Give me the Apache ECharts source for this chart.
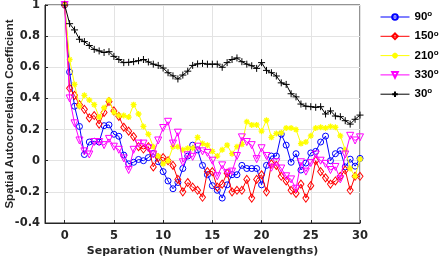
<!DOCTYPE html>
<html><head><meta charset="utf-8">
<script src="https://cdn.jsdelivr.net/npm/echarts@6/dist/echarts.min.js"></script>
<style>html,body{margin:0;padding:0;background:#fff}#c{width:443px;height:262px}</style>
</head><body><div id="c"></div>
<script>
// Separation (number of wavelengths)
const separation = [0,0.5,1,1.5,2,2.5,3,3.5,4,4.5,5,5.5,6,6.5,7,7.5,8,8.5,9,9.5,10,10.5,11,11.5,12,12.5,13,13.5,14,14.5,15,15.5,16,16.5,17,17.5,18,18.5,19,19.5,20,20.5,21,21.5,22,22.5,23,23.5,24,24.5,25,25.5,26,26.5,27,27.5,28,28.5,29,29.5,30];
const xTickLabels = [0,5,10,15,20,25,30];
const seriesNames = ['90°','150°','210°','330°','30°'];

const deg90 = [1.0,0.57,0.35,0.22,0.04,0.12,0.125,0.12,0.225,0.23,0.17,0.157,0.036,-0.02,-0.01,0.008,0.0,0.02,0.047,-0.006,-0.07,-0.13,-0.18,-0.14,-0.05,0.03,0.10,0.07,-0.03,-0.09,-0.16,-0.19,-0.24,-0.155,-0.09,-0.09,-0.03,-0.05,-0.05,-0.05,-0.155,-0.03,0.03,0.03,0.17,0.10,-0.01,0.045,-0.06,-0.015,0.05,0.06,0.12,0.158,0.0,0.045,0.065,-0.04,0.01,-0.035,0.015];
const deg150 = [1.0,0.465,0.42,0.36,0.33,0.275,0.29,0.235,0.31,0.38,0.32,0.285,0.215,0.19,0.155,0.09,0.075,0.09,-0.04,0.02,0.02,0.0,-0.03,-0.12,-0.2,-0.14,-0.17,-0.19,-0.235,-0.07,-0.07,-0.17,-0.15,-0.08,-0.2,-0.19,-0.19,-0.12,-0.24,-0.12,-0.09,-0.2,-0.02,-0.03,-0.1,-0.13,-0.19,-0.21,-0.15,-0.24,-0.16,0.0,-0.07,-0.11,-0.15,-0.13,-0.1,-0.06,-0.19,-0.1,-0.1];
const deg210 = [1.0,0.65,0.49,0.35,0.42,0.39,0.36,0.28,0.34,0.39,0.31,0.29,0.29,0.28,0.36,0.30,0.22,0.17,0.09,0.03,-0.02,0.0,0.09,0.09,0.07,0.08,0.08,0.15,0.11,0.10,0.06,0.03,0.07,0.10,0.045,0.09,0.105,0.25,0.23,0.23,0.19,0.26,0.15,0.175,0.18,0.21,0.21,0.20,0.11,0.12,0.16,0.21,0.215,0.21,0.22,0.215,0.16,0.07,-0.05,-0.10,0.01];
const deg330 = [1.0,0.40,0.24,0.13,0.06,0.04,0.12,0.12,0.10,0.14,0.09,0.07,0.015,-0.06,0.07,0.11,0.11,0.08,0.04,0.13,0.21,0.25,0.11,0.18,-0.01,0.035,0.025,0.09,0.06,0.05,0.0,-0.1,-0.03,-0.08,-0.07,0.03,0.15,0.12,0.10,0.01,0.08,0.03,-0.045,-0.01,-0.05,-0.10,-0.12,-0.18,-0.01,-0.07,-0.015,0.04,0.0,-0.02,-0.06,-0.04,-0.12,0.04,0.16,0.13,0.15];
const deg30 = [1.0,0.88,0.84,0.78,0.765,0.74,0.715,0.705,0.695,0.70,0.67,0.65,0.63,0.632,0.636,0.642,0.65,0.634,0.62,0.612,0.595,0.565,0.545,0.525,0.55,0.575,0.612,0.622,0.625,0.62,0.62,0.62,0.60,0.63,0.65,0.66,0.636,0.62,0.61,0.593,0.63,0.58,0.565,0.544,0.50,0.49,0.43,0.41,0.364,0.35,0.347,0.343,0.347,0.30,0.32,0.287,0.283,0.257,0.235,0.266,0.293];

const seriesValues = [deg90, deg150, deg210, deg330, deg30];
const colors = ['#0000ff','#ff0000','#ffff00','#ff00ff','#000000'];
const symbols = [
  'circle',
  'diamond',
  'path://M0,5L10,5M5,0L5,10M1.5,1.5L8.5,8.5M1.5,8.5L8.5,1.5',
  'path://M0,0L10,0L5,9Z',
  'path://M0,5L10,5M5,0L5,10'
];
const symbolSizes = [6, [6,8], 6, 7, 7];
const borderWidths = [1, 1, 1.3, 1, 1];

const FONT = '"Liberation Sans", Arial, Helvetica, sans-serif';
const FONT2 = '"DejaVu Sans", sans-serif';
const TXT = '#262626';

const series = seriesNames.map((name, k) => ({
  name: name,
  type: 'line',
  data: separation.map((x, i) => [x, seriesValues[k][i]]),
  symbol: symbols[k],
  symbolSize: symbolSizes[k],
  showAllSymbol: true,
  lineStyle: { color: colors[k], width: 1 },
  itemStyle: { color: 'transparent', borderColor: colors[k], borderWidth: borderWidths[k] },
  emphasis: { disabled: true },
  z: 2 + k
}));

const chart = echarts.init(document.getElementById('c'), null, { renderer: 'canvas' });
chart.setOption({
  animation: false,
  backgroundColor: '#ffffff',
  grid: { left: 45, right: 83, top: 5, bottom: 39, containLabel: false, outerBoundsMode: 'none', show: true, borderColor: TXT, borderWidth: 1, backgroundColor: 'transparent' },
  legend: {
    orient: 'vertical',
    left: 380, top: 10, padding: 0,
    itemWidth: 29, itemHeight: 7, itemGap: 6.3,
    data: seriesNames,
    lineStyle: { width: 1 },
    formatter: function (n) { return '{n|' + n.replace('°', '') + '}{s|o}'; },
    textStyle: {
      color: '#000',
      rich: {
        n: { fontSize: 11.5, fontWeight: 'bold', fontFamily: FONT, color: '#000', lineHeight: 14 },
        s: { fontSize: 8, fontWeight: 'bold', fontFamily: FONT, color: '#000', verticalAlign: 'top', lineHeight: 8 }
      }
    }
  },
  xAxis: {
    type: 'value', min: -2, max: 30,
    name: 'Separation (Number of Wavelengths)',
    nameLocation: 'middle', nameGap: 23, nameMoveOverlap: false,
    nameTextStyle: { fontSize: 11, fontWeight: 'bold', fontFamily: FONT2, color: TXT },
    axisLine: { show: true, onZero: false, lineStyle: { color: TXT, width: 1 } },
    axisTick: { show: true, inside: true, length: 3, customValues: xTickLabels, lineStyle: { color: TXT } },
    axisLabel: { customValues: xTickLabels, fontSize: 11.5, fontWeight: 'bold', fontFamily: FONT2, color: TXT, margin: 7 },
    splitLine: { show: true, lineStyle: { color: '#e3e3e3', width: 1 } }
  },
  yAxis: {
    type: 'value', min: -0.4, max: 1, interval: 0.2,
    name: 'Spatial Autocorrelation Coefficient',
    nameLocation: 'middle', nameGap: 29, nameMoveOverlap: false,
    nameTextStyle: { fontSize: 11.5, fontWeight: 'bold', fontFamily: FONT, color: TXT },
    axisLine: { show: true, onZero: false, lineStyle: { color: TXT, width: 1 } },
    axisTick: { show: true, inside: true, length: 3, lineStyle: { color: TXT } },
    axisLabel: { fontSize: 11.5, fontWeight: 'bold', fontFamily: FONT2, color: TXT, margin: 5 },
    splitLine: { show: true, lineStyle: { color: '#e3e3e3', width: 1 } }
  },
  series: series
});
</script>
</body></html>
